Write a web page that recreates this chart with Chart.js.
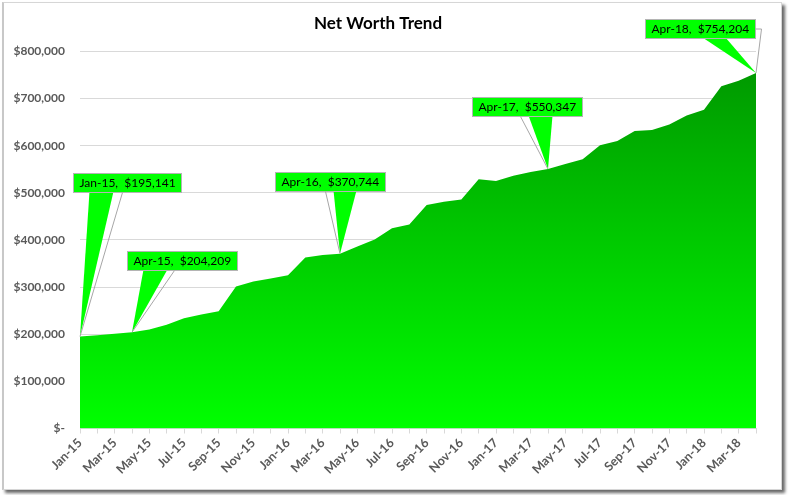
<!DOCTYPE html>
<html>
<head>
<meta charset="utf-8">
<script src="https://cdn.jsdelivr.net/npm/chart.js@4"></script>
<style>
  html, body { margin: 0; padding: 0; background: #fff; }
  #frame {
    position: absolute; left: 2px; top: 2px; width: 777px; height: 486px;
    border: 1px solid #d6d6d6; border-left: 2px solid #c8c8c8;
    box-shadow: 3px 3px 3px rgba(0,0,0,0.6);
    background: #fff;
  }
  #chart { position: absolute; left: 0; top: 0; }
</style>
</head>
<body>
<div id="frame"></div>
<canvas id="chart" width="789" height="495"></canvas>
<script>
const months = [
  "Jan-15","Feb-15","Mar-15","Apr-15","May-15","Jun-15","Jul-15","Aug-15","Sep-15","Oct-15","Nov-15","Dec-15",
  "Jan-16","Feb-16","Mar-16","Apr-16","May-16","Jun-16","Jul-16","Aug-16","Sep-16","Oct-16","Nov-16","Dec-16",
  "Jan-17","Feb-17","Mar-17","Apr-17","May-17","Jun-17","Jul-17","Aug-17","Sep-17","Oct-17","Nov-17","Dec-17",
  "Jan-18","Feb-18","Mar-18","Apr-18"
];
const netWorth = [
  195141, 198000, 201000, 204209, 210000, 220000, 234000, 242000, 249000, 301000, 312000, 318000,
  325000, 363000, 368000, 370744, 386000, 401000, 425000, 433000, 474000, 481000, 486000, 529000,
  525000, 536000, 544000, 550347, 561000, 571000, 601000, 610000, 631000, 633000, 645000, 664000,
  676000, 726000, 738000, 754204
];
const yTicks = [0, 100000, 200000, 300000, 400000, 500000, 600000, 700000, 800000];

// callout boxes: index of point, box offset from point, wedge base and leader start (from box left)
const callouts = [
  { i: 0,  dx: -7,   dy: -164, wedge: [16, 40], leader: 49 },
  { i: 3,  dx: -5,   dy: -81,  wedge: [16, 40], leader: 47 },
  { i: 15, dx: -65,  dy: -82,  wedge: [58, 81], leader: 50 },
  { i: 27, dx: -76,  dy: -72,  wedge: [56, 80], leader: 48 },
  { i: 39, dx: -111, dy: -54,  wedge: [57, 80], leader: "right" }
];

const money = (v) => "$" + v.toLocaleString("en-US");

const calloutPlugin = {
  id: "callouts",
  afterDatasetsDraw(chart) {
    const ctx = chart.ctx;
    const xs = chart.scales.x, ys = chart.scales.y;
    ctx.save();
    ctx.font = "12px Lato";
    ctx.textBaseline = "middle";
    callouts.forEach(c => {
      const px = xs.getPixelForValue(c.i);
      const py = ys.getPixelForValue(netWorth[c.i]);
      const text = months[c.i] + ",  " + money(netWorth[c.i]);
      const w = Math.round(ctx.measureText(text).width) + 12;
      const h = 19;
      const bx = Math.round(px + c.dx) + 0.5, by = Math.round(py + c.dy) + 0.5;
      // wedge
      ctx.fillStyle = "#00ff00";
      ctx.beginPath();
      ctx.moveTo(bx + c.wedge[0], by + h - 1);
      ctx.lineTo(px, py);
      ctx.lineTo(bx + c.wedge[1], by + h - 1);
      ctx.closePath();
      ctx.fill();
      // box
      ctx.fillRect(bx, by, w, h);
      ctx.strokeStyle = "#b4b4b4";
      ctx.lineWidth = 1;
      ctx.strokeRect(bx, by, w, h);
      // leader line
      ctx.strokeStyle = "#a6a6a6";
      ctx.beginPath();
      if (c.leader === "right") {
        ctx.moveTo(bx + w, by + h / 2);
        ctx.lineTo(bx + w + 6, by + h / 2);
        ctx.lineTo(px, py);
      } else {
        ctx.moveTo(bx + c.leader, by + h);
        ctx.lineTo(px, py);
      }
      ctx.stroke();
      ctx.fillStyle = "#000";
      ctx.textAlign = "left";
      ctx.fillText(text, bx + 6, by + h / 2 + 0.5);
    });
    ctx.restore();
  }
};

new Chart(document.getElementById("chart"), {
  type: "line",
  data: {
    labels: months,
    datasets: [{
      data: netWorth,
      fill: "origin",
      borderWidth: 0,
      pointRadius: 0,
      tension: 0,
      backgroundColor: (context) => {
        const { chart } = context;
        const area = chart.chartArea;
        if (!area) return "#00ff00";
        const top = chart.scales.y.getPixelForValue(Math.max(...netWorth));
        const g = chart.ctx.createLinearGradient(0, area.bottom, 0, top);
        g.addColorStop(0, "#00ff00");
        g.addColorStop(1, "#009a00");
        return g;
      }
    }]
  },
  options: {
    responsive: false,
    animation: false,
    devicePixelRatio: 1,
    layout: { padding: { top: 0, right: 33, bottom: 8, left: 0 } },
    plugins: {
      legend: { display: false },
      tooltip: { enabled: false },
      title: {
        display: true,
        text: "Net Worth Trend",
        color: "#000",
        font: { family: "Lato", size: 17, weight: "bold" },
        padding: { top: 13, bottom: 18 }
      }
    },
    scales: {
      x: {
        offset: false,
        afterFit: (s) => { s.height = 58.5; },
        grid: { display: true, drawOnChartArea: false, drawTicks: true, tickLength: 5, color: "#d9d9d9" },
        border: { display: true, color: "#d9d9d9" },
        ticks: {
          autoSkip: false,
          maxRotation: 45,
          minRotation: 45,
          padding: 2,
          color: "#595959",
          font: { family: "Lato", size: 12.5, weight: "bold" },
          callback: (v, idx) => idx % 2 === 0 ? months[idx] : ""
        }
      },
      y: {
        min: yTicks[0],
        max: yTicks[yTicks.length - 1],
        afterFit: (s) => { s.width = 80; },
        afterBuildTicks: (s) => { s.ticks = yTicks.map(v => ({ value: v })); },
        grid: { color: "#d9d9d9", drawTicks: false },
        border: { display: false },
        ticks: {
          padding: 15,
          color: "#595959",
          font: { family: "Lato", size: 12, weight: "bold" },
          callback: (v) => v === 0 ? "$-" : money(v)
        }
      }
    }
  },
  plugins: [calloutPlugin]
});
</script>
</body>
</html>
